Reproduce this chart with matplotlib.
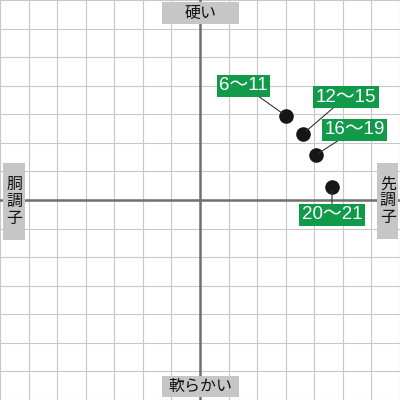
import matplotlib.pyplot as plt
from matplotlib.patches import Rectangle

plt.rcParams["font.family"] = ["Noto Sans CJK JP", "DejaVu Sans"]

# age groups and their position on the chart (grid units)
groups = ["6〜11", "12〜15", "16〜19", "20〜21"]
flex_x = [3.0, 3.6, 4.05, 4.62]  # 胴調子 (-) ... 先調子 (+)
stiff_y = [2.95, 2.31, 1.575, 0.47]  # 軟らかい (-) ... 硬い (+)

axis_top = "硬い"
axis_bottom = "軟らかい"
axis_left = "胴\n調\n子"
axis_right = "先\n調\n子"

LIM = 7
GREEN = "#109a4a"
BOX_GRAY = "#c6c6c6"

fig = plt.figure(figsize=(4, 4), dpi=100)
ax = fig.add_axes([0, 0, 1, 1])
ax.set_xlim(-LIM, LIM)
ax.set_ylim(-LIM, LIM)
ax.set_xticks(range(-LIM, LIM + 1))
ax.set_yticks(range(-LIM, LIM + 1))
ax.grid(True, color="#c8c8c8", linewidth=0.8)
ax.tick_params(length=0, labelbottom=False, labelleft=False)
for spine in ax.spines.values():
    spine.set_visible(False)

ax.axhline(0, color="#707070", linewidth=1.8, zorder=2)
ax.axvline(0, color="#707070", linewidth=1.8, zorder=2)

# axis caption boxes (axes fraction coords)
caps = [
    (axis_top, 0.405, 0.94, 0.192, 0.055),
    (axis_bottom, 0.405, 0.008, 0.192, 0.052),
    (axis_left, 0.008, 0.40, 0.055, 0.192),
    (axis_right, 0.943, 0.403, 0.053, 0.19),
]
for text, x0, y0, w, h in caps:
    ax.add_patch(Rectangle((x0, y0), w, h, transform=ax.transAxes,
                           facecolor=BOX_GRAY, edgecolor="none", zorder=4))
    ax.text(x0 + w / 2, y0 + h / 2, text, transform=ax.transAxes,
            ha="center", va="center", fontsize=11.5, color="#111111",
            linespacing=1.0, zorder=5)

ax.scatter(flex_x, stiff_y, s=90, color="#161616", zorder=6)

offsets = [(-42, 30), (43, 37), (39, 25), (0, -28)]
for label, x, y, off in zip(groups, flex_x, stiff_y, offsets):
    ax.annotate(
        label, (x, y), xytext=off, textcoords="offset pixels",
        ha="center", va="center", fontsize=13.5, color="white",
        family=["Liberation Sans", "Noto Sans CJK JP"],
        bbox=dict(boxstyle="square,pad=0.13", facecolor=GREEN, edgecolor="none"),
        arrowprops=dict(arrowstyle="-", color="#333333", linewidth=0.8,
                        shrinkA=0, shrinkB=3),
        zorder=7,
    )

fig.savefig("out.png", dpi=100)
